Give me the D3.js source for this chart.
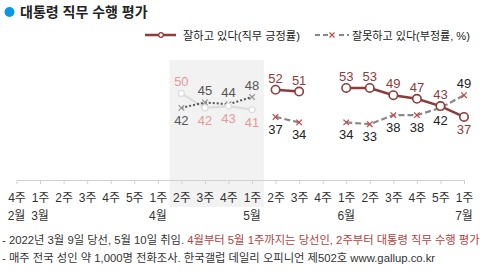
<!DOCTYPE html>
<html><head><meta charset="utf-8">
<script src="https://cdn.jsdelivr.net/npm/d3@7"></script>
<style>
body{margin:0;background:#fff;}
text{font-family:"Liberation Sans","Noto Sans CJK KR",sans-serif;}
</style></head>
<body><svg id="c" width="481" height="273"></svg>
<script>
const weeks = ['4주','1주','2주','3주','4주','5주','1주','2주','3주','4주','1주','2주','3주','4주','1주','2주','3주','4주','5주','1주'];
const months = ['2월','3월','','','','','4월','','','','5월','','','','6월','','','','','7월'];
const approve = [null,null,null,null,null,null,null,50,42,43,41,52,51,null,53,53,49,47,43,37];
const disapprove = [null,null,null,null,null,null,null,42,45,44,48,37,34,null,34,33,38,38,42,49];
const electStart = 7, electEnd = 10;
const title = '대통령 직무 수행 평가';
const legendLabels = ['잘하고 있다(직무 긍정률)','잘못하고 있다(부정률, %)'];

const svg = d3.select('#c');
const idx = d3.range(weeks.length);
const x = d3.scalePoint().domain(idx).range([16.5, 464]);
const y = d3.scaleLinear().domain([0,100]).range([184, 2.75]);
const step = x.step();

const C_APP = '#8e3b3b', C_DIS = '#888', C_X = '#c94a4a';

function fit(t, w){
  const n = t.node(); const fs = +t.attr('font-size');
  const L = n.getComputedTextLength();
  if (L > 0) t.attr('font-size', fs * w / L);
}

// shaded elect period band
svg.append('rect').attr('x', x(electStart)-step/2).attr('y',60)
  .attr('width', x(electEnd)-x(electStart)+step).attr('height',147).attr('fill','#f2f2f2');

// title
svg.append('circle').attr('cx',9.5).attr('cy',12).attr('r',5).attr('fill','#0a97e8');
svg.append('text').attr('x',20).attr('y',17).attr('font-size',14).attr('font-weight','bold').attr('fill','#222').text(title);

// legend
const lg = svg.append('g');
lg.append('line').attr('x1',145).attr('x2',176).attr('y1',35).attr('y2',35).attr('stroke',C_APP).attr('stroke-width',2.5);
lg.append('circle').attr('cx',161).attr('cy',35).attr('r',2.3).attr('fill','#fff').attr('stroke',C_APP).attr('stroke-width',1.2);
fit(lg.append('text').attr('x',183).attr('y',39.5).attr('font-size',12.5).attr('fill','#222').text(legendLabels[0]), 117);
lg.append('line').attr('x1',315).attr('x2',349).attr('y1',35).attr('y2',35).attr('stroke',C_DIS).attr('stroke-width',2).attr('stroke-dasharray','5,3');
lg.append('rect').attr('x',328).attr('y',31).attr('width',8).attr('height',8).attr('fill','#fff');
lg.append('path').attr('d',d3.symbol(d3.symbolX,18)()).attr('transform','translate(332,35)').attr('stroke',C_X).attr('stroke-width',1.2);
fit(lg.append('text').attr('x',352).attr('y',39.5).attr('font-size',12.5).attr('fill','#222').text(legendLabels[1]), 118);

// x axis
const ax = svg.append('g').attr('transform','translate(0,180)')
  .call(d3.axisBottom(x).tickSize(4).tickSizeOuter(0).tickPadding(9).tickFormat(i=>weeks[i]));
ax.select('.domain').attr('stroke','#d0d0d0');
ax.selectAll('.tick line').attr('stroke','#d0d0d0');
ax.selectAll('.tick text').attr('font-size',12).attr('fill','#333').attr('font-family','"Liberation Sans","Noto Sans CJK KR",sans-serif');
svg.append('g').selectAll('text').data(idx.filter(i=>months[i])).join('text')
  .attr('x',i=>x(i)).attr('y',220).attr('text-anchor','middle').attr('font-size',12).attr('fill','#333').text(i=>months[i]);

const inElect = i => i>=electStart && i<=electEnd;
const lineA = d3.line().defined(i=>approve[i]!=null).x(i=>x(i)).y(i=>y(approve[i]));
const lineD = d3.line().defined(i=>disapprove[i]!=null).x(i=>x(i)).y(i=>y(disapprove[i]));
const eIdx = idx.filter(inElect), pIdx = idx.filter(i=>i>electEnd);

// elect period lines
svg.append('path').attr('d',lineA(eIdx)).attr('fill','none').attr('stroke','#dcdcdc').attr('stroke-width',2.2);
svg.append('path').attr('d',lineD(eIdx)).attr('fill','none').attr('stroke','#555').attr('stroke-width',2).attr('stroke-dasharray','2,2');
// president period lines
svg.append('path').attr('d',lineD(pIdx)).attr('fill','none').attr('stroke',C_DIS).attr('stroke-width',2.2).attr('stroke-dasharray','6,3');
svg.append('path').attr('d',lineA(pIdx)).attr('fill','none').attr('stroke',C_APP).attr('stroke-width',2.5);

// markers
svg.append('g').selectAll('path').data(idx.filter(i=>disapprove[i]!=null)).join('path')
  .attr('d',d3.symbol(d3.symbolX,22)()).attr('transform',i=>`translate(${x(i)},${y(disapprove[i])})`)
  .attr('stroke',i=>inElect(i)?'#999':C_X).attr('stroke-width',1.3);
svg.append('g').selectAll('circle').data(idx.filter(i=>approve[i]!=null)).join('circle')
  .attr('cx',i=>x(i)).attr('cy',i=>y(approve[i])).attr('r',i=>inElect(i)?3:4.2)
  .attr('fill','#fff').attr('stroke',i=>inElect(i)?'#dcdcdc':C_APP).attr('stroke-width',i=>inElect(i)?1.2:1.6);

// value labels
const lab = svg.append('g').attr('font-size',13).attr('text-anchor','middle');
idx.filter(i=>approve[i]!=null).forEach(i=>{
  const a=approve[i], d=disapprove[i];
  const e=inElect(i);
  lab.append('text').attr('x',x(i)).attr('y', a>=d ? y(a)-7 : y(a)+17)
    .attr('fill', e?'#e59a9a':C_APP).text(a);
  lab.append('text').attr('x',x(i)).attr('y', d>a ? y(d)-7 : y(d)+17)
    .attr('fill', e?'#555':'#222').text(d);
});

// footnotes
const f1 = svg.append('text').attr('x',2).attr('y',244).attr('font-size',11.3).attr('fill','#333');
f1.append('tspan').text('- 2022년 3월 9일 당선, 5월 10일 취임. ');
f1.append('tspan').attr('fill','#b0413e').text('4월부터 5월 1주까지는 당선인, 2주부터 대통령 직무 수행 평가');
svg.append('text').attr('x',2).attr('y',262).attr('font-size',11.3).attr('fill','#333')
  .text('- 매주 전국 성인 약 1,000명 전화조사. 한국갤럽 데일리 오피니언 제502호 www.gallup.co.kr');
</script></body></html>
